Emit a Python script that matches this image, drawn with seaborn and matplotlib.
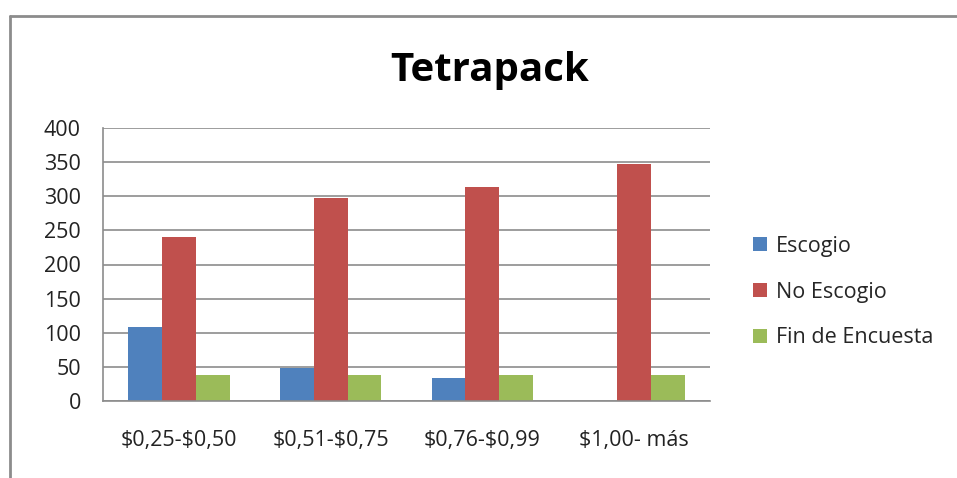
import matplotlib
matplotlib.use("Agg")
import matplotlib.pyplot as plt
import seaborn as sns
import pandas as pd
from matplotlib.patches import Patch
from matplotlib.lines import Line2D

categories = ["$0,25-$0,50", "$0,51-$0,75", "$0,76-$0,99", "$1,00- más"]
series = ["Escogio", "No Escogio", "Fin de Encuesta"]
escogio = [108, 48, 33, 0]
no_escogio = [240, 298, 314, 347]
fin_encuesta = [38, 38, 38, 38]
colors = ["#4F81BD", "#C0504D", "#9BBB59"]

rows = []
for s, vals in zip(series, [escogio, no_escogio, fin_encuesta]):
    for c, v in zip(categories, vals):
        rows.append({"cat": c, "serie": s, "val": v})
df = pd.DataFrame(rows)

sns.set_style("white")
plt.rcParams["font.family"] = ["Open Sans", "DejaVu Sans"]
plt.rcParams["text.parse_math"] = False

fig = plt.figure(figsize=(9.57, 4.78), dpi=100)
ax = fig.add_axes([103/957, 1-401/478, (710-103)/957, (401-128)/478])

sns.barplot(data=df, x="cat", y="val", hue="serie", palette=colors,
            width=0.67, gap=0, ax=ax, legend=False, saturation=1,
            edgecolor="none")

ax.set_ylim(0, 400)
ax.set_xlim(-0.5, 3.5)
ax.set_yticks(range(0, 401, 50))
ax.yaxis.grid(True, color="#8c8c8c", linewidth=1.2)
ax.set_axisbelow(True)
ax.set_xlabel("")
ax.set_ylabel("")
for side in ["top", "right"]:
    ax.spines[side].set_visible(False)
for side in ["left", "bottom"]:
    ax.spines[side].set_color("#8c8c8c")
    ax.spines[side].set_linewidth(1.2)
ax.tick_params(axis="y", length=0, pad=16, labelsize=15.5, labelcolor="#222222")
ax.tick_params(axis="x", length=0, pad=21, labelsize=15.5, labelcolor="#222222")

fig.text(490/957, 1-71/478, "Tetrapack", ha="center", va="center",
         fontsize=29, fontweight="bold", color="black")

handles = [Patch(facecolor=c, edgecolor="none") for c in colors]
fig.legend(handles, series, loc="center left", bbox_to_anchor=(744/957, 1-292/478),
           frameon=False, fontsize=15.5, handlelength=0.65, handleheight=0.65,
           labelspacing=1.15, handletextpad=0.45, borderaxespad=0)

# outer chart border (left and top)
fig.add_artist(Line2D([10/957, 10/957], [0, 1-16/478], transform=fig.transFigure,
                      color="#8c8c8c", linewidth=2))
fig.add_artist(Line2D([10/957, 1], [1-16/478, 1-16/478], transform=fig.transFigure,
                      color="#8c8c8c", linewidth=2))

fig.savefig("out.png", dpi=100)
